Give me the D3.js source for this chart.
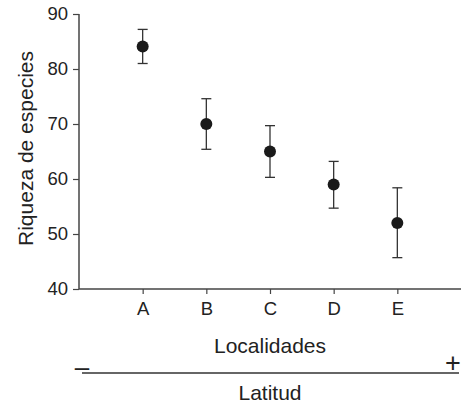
<!DOCTYPE html>
<html>
<head>
<meta charset="utf-8">
<script src="https://cdn.jsdelivr.net/npm/d3@7"></script>
<style>
  body { margin: 0; background: #fff; }
  svg text { font-family: "Liberation Sans", Arial, sans-serif; fill: #222; }
</style>
</head>
<body>
<svg id="chart" width="462" height="405"></svg>
<script>
// data
const categories = ["A", "B", "C", "D", "E"];
const means = [84.1, 70.0, 65.0, 59.0, 52.0];
const upper = [87.2, 74.6, 69.7, 63.2, 58.4];
const lower = [81.0, 65.4, 60.3, 54.7, 45.7];
const yTicks = [40, 50, 60, 70, 80, 90];

const svg = d3.select("#chart");
const margin = { top: 14, right: 1, bottom: 116, left: 79 };
const width = +svg.attr("width") - margin.left - margin.right;
const height = +svg.attr("height") - margin.top - margin.bottom;

const g = svg.append("g").attr("transform", `translate(${margin.left},${margin.top})`);

// scales
const x = d3.scalePoint().domain(categories).range([0, width]).padding(1);
const y = d3.scaleLinear().domain([40, 90]).range([height, 0]);

// axes
const yAxis = g.append("g")
  .call(d3.axisLeft(y).tickValues(yTicks).tickSize(6).tickPadding(5));
const xAxis = g.append("g")
  .attr("transform", `translate(0,${height})`)
  .call(d3.axisBottom(x).tickSize(5).tickPadding(8));

[yAxis, xAxis].forEach(a => {
  a.attr("font-size", 18.5).attr("font-family", "'Liberation Sans', Arial, sans-serif");
  a.select(".domain").attr("stroke", "#444").attr("stroke-width", 1.5);
  a.selectAll(".tick line").attr("stroke", "#444").attr("stroke-width", 1.2);
  a.selectAll(".tick text").attr("fill", "#222");
});
xAxis.select(".domain").attr("d", `M0,0H${width}`);
yAxis.select(".domain").attr("d", `M0,${height}V0`);

// error bars
const rows = categories.map((c, i) => ({ c, m: means[i], hi: upper[i], lo: lower[i] }));
const eb = g.selectAll(".err").data(rows).enter().append("g").attr("class", "err")
  .attr("stroke", "#333").attr("stroke-width", 1.3);
eb.append("line").attr("x1", d => x(d.c)).attr("x2", d => x(d.c))
  .attr("y1", d => y(d.hi)).attr("y2", d => y(d.lo));
eb.append("line").attr("x1", d => x(d.c) - 5).attr("x2", d => x(d.c) + 5)
  .attr("y1", d => y(d.hi)).attr("y2", d => y(d.hi));
eb.append("line").attr("x1", d => x(d.c) - 5).attr("x2", d => x(d.c) + 5)
  .attr("y1", d => y(d.lo)).attr("y2", d => y(d.lo));

// points
g.selectAll(".pt").data(rows).enter().append("circle")
  .attr("cx", d => x(d.c)).attr("cy", d => y(d.m)).attr("r", 6)
  .attr("fill", "#1a1a1a");

// axis titles
g.append("text")
  .attr("transform", `translate(-46,${height / 2 - 3}) rotate(-90)`)
  .attr("text-anchor", "middle").attr("font-size", 21)
  .text("Riqueza de especies");

g.append("text")
  .attr("x", x("C")).attr("y", 353 - margin.top)
  .attr("text-anchor", "middle").attr("font-size", 21)
  .text("Localidades");

// latitude gradient
svg.append("line").attr("x1", 82).attr("x2", 459).attr("y1", 373).attr("y2", 373)
  .attr("stroke", "#333").attr("stroke-width", 1.4);
svg.append("text").attr("x", 82).attr("y", 376).attr("text-anchor", "middle")
  .attr("font-size", 26).text("–");
svg.append("text").attr("x", 453).attr("y", 372).attr("text-anchor", "middle")
  .attr("font-size", 27).text("+");
svg.append("text").attr("x", x("C") + margin.left).attr("y", 400)
  .attr("text-anchor", "middle").attr("font-size", 21).text("Latitud");
</script>
</body>
</html>
